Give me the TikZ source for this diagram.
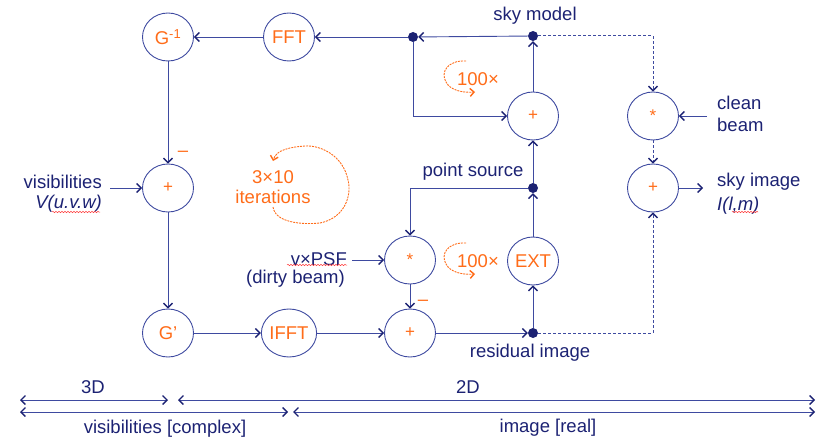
\documentclass[tikz,border=0pt]{standalone}
\usepackage{fontspec}
\setmainfont{Liberation Sans}
\usetikzlibrary{arrows.meta,shapes.geometric,decorations.pathmorphing,calc}
\definecolor{navy}{RGB}{28,34,115}
\definecolor{lineblue}{RGB}{62,74,160}
\definecolor{orng}{RGB}{255,108,25}
\begin{document}
\begin{tikzpicture}[x=1pt,y=-1pt,
  op/.style={ellipse, draw=lineblue, line width=0.9pt, minimum width=51pt, minimum height=48pt, inner sep=0pt, text=orng, font=\fontsize{18.5}{20}\selectfont},
  sop/.style={op, font=\fontsize{17}{18}\selectfont},
  dot/.style={circle, fill=navy, inner sep=0pt, minimum size=10pt},
  lbl/.style={text=navy, font=\fontsize{18.5}{21}\selectfont, inner sep=0pt},
  olbl/.style={text=orng, font=\fontsize{18.5}{21}\selectfont, inner sep=0pt},
  tip/.tip={Straight Barb[length=4.5pt,width=9pt,line width=1.4pt,color=navy]},
  conn/.style={draw=lineblue, line width=0.9pt, -tip},
  dimline/.style={draw=lineblue, line width=0.9pt, tip-tip},
  dsh/.style={dash pattern=on 3pt off 2pt, line width=1pt},
  loop/.style={draw=orng, line width=0.9pt, dash pattern=on 2pt off 1pt, -{Straight Barb[length=4pt,width=8pt,line width=1.4pt,color=orng]}},
  spell/.style={draw=red!75, line width=0.5pt, decorate, decoration={snake, amplitude=0.7pt, segment length=3pt}}
]
\useasboundingbox (0,0) rectangle (816,441);
% operator nodes
\node[op] (Ginv) at (168,37) {G\textsuperscript{-1}};
\node[op] (FFT) at (289,37) {FFT};
\node[dot] (dTL) at (413,37) {};
\node[dot] (dSky) at (533,36) {};
\node[sop] (pTop) at (533,116) {+};
\node[sop] (sClean) at (653,116) {*};
\node[sop] (pSky) at (653,188) {+};
\node[dot] (dPt) at (533,188) {};
\node[sop] (pL) at (168,188) {+};
\node[sop] (sDirty) at (410,260) {*};
\node[op] (EXT) at (533,261) {EXT};
\node[op] (Gp) at (168,333) {G’};
\node[op] (IFFT) at (289,333) {IFFT};
\node[sop] (pB) at (410,333) {+};
\node[dot] (dRes) at (533,333) {};
% connectors
\draw[conn] (dSky) -- (dTL);
\draw[conn] (dTL) -- (FFT);
\draw[conn] (FFT) -- (Ginv);
\draw[conn] (Ginv) -- (pL);
\draw[conn] (pL) -- (Gp);
\draw[conn] (Gp) -- (IFFT);
\draw[conn] (IFFT) -- (pB);
\draw[conn] (sDirty) -- (pB);
\draw[conn] (pB) -- (dRes);
\draw[conn] (dRes) -- (EXT);
\draw[conn] (EXT) -- (dPt);
\draw[conn] (dPt) -- (pTop);
\draw[conn] (pTop) -- (dSky);
\draw[conn] (dTL) |- (pTop);
\draw[conn] (dPt) -| (sDirty);
\draw[conn, dsh] (dSky) -| (sClean);
\draw[conn, dsh] (sClean) -- (pSky);
\draw[conn, dsh] (dRes) -| (pSky);
% labels
\node[lbl] (skymodel) at (535,16) {sky model};
\node[lbl, anchor=west] (clean1) at (717,103) {clean};
\node[lbl, anchor=west] (clean2) at (717,125) {beam};
\draw[conn] ([xshift=-10pt]clean1.west |- sClean) -- (sClean);
\node[lbl, anchor=west] (skyimg) at (717,182) {sky image};
\node[lbl, anchor=west] (Ilm) at (717,206) {\textit{I(l,m)}};
\draw[conn] (pSky) -- ([xshift=-14pt]skyimg.west |- pSky);
\node[lbl] (ptsrc) at (473,172) {point source};
\node[lbl] (resid) at (530,353) {residual image};
\node[lbl, anchor=east] (vis1) at (102,182) {visibilities};
\node[lbl, anchor=east] (vis2) at (102,204) {\textit{V(u.v.w)}};
\draw[conn] ([xshift=8pt]vis1.east |- pL) -- (pL);
\node[lbl, anchor=east] (psf1) at (347,259) {v×PSF};
\node[lbl, anchor=east] (psf2) at (345,279) {(dirty beam)};
\draw[conn] ([xshift=5pt]psf1.east |- sDirty) -- (sDirty);
% spell-check marks
\draw[spell] (52,212) -- (100,212);
\draw[spell] (287,265) -- (347,265);
\draw[spell] (732,212) -- (758,212);
% minus signs
\node[olbl] (m1) at (183,154) {–};
\node[olbl] (m2) at (423,303) {–};
% iteration loops
\node[olbl] (h1) at (478,79) {100×};
\draw[loop] (466,61) .. controls (448,60) and (440,72) .. (446,82) .. controls (450,90) and (462,93) .. (475,92);
\node[olbl] (h2) at (478,261) {100×};
\draw[loop] (466,243) .. controls (448,242) and (440,254) .. (446,264) .. controls (450,272) and (462,275) .. (475,274);
\node[olbl] (it1) at (273,177) {3×10};
\node[olbl] (it2) at (273,197) {iterations};
\draw[loop] (273,207) .. controls (275,222) and (300,225) .. (320,223) .. controls (345,218) and (352,195) .. (348,180) .. controls (343,155) and (320,145) .. (305,146) .. controls (290,147) and (276,150) .. (273,161);
% dimension lines
\coordinate (a1) at (20,400);
\coordinate (a2) at (168,400);
\coordinate (a3) at (178,400);
\coordinate (a4) at (815,400);
\coordinate (b1) at (20,412);
\coordinate (b2) at (288,412);
\coordinate (b3) at (293,412);
\coordinate (b4) at (815,412);
\draw[dimline] (a1) -- (a2);
\draw[dimline] (a3) -- (a4);
\draw[dimline] (b1) -- (b2);
\draw[dimline] (b3) -- (b4);
\node[lbl] (t3d) at (93,387) {3D};
\node[lbl] (t2d) at (468,387) {2D};
\node[lbl] (tvis) at (165,429) {visibilities [complex]};
\node[lbl] (timg) at (548,428) {image [real]};
\end{tikzpicture}
\end{document}
